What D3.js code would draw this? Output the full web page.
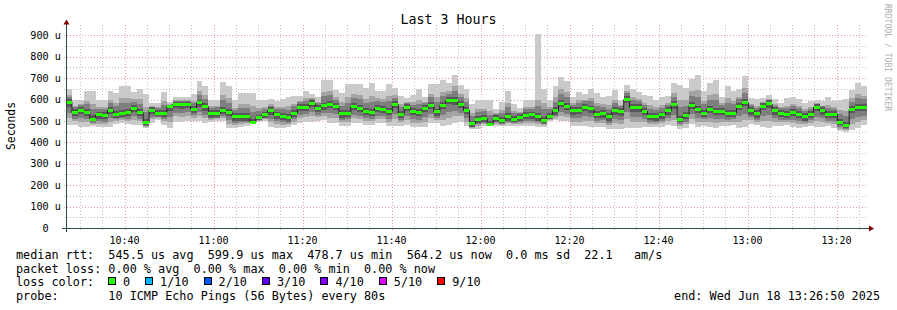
<!DOCTYPE html>
<html>
<head>
<meta charset="utf-8">
<script src="https://cdn.jsdelivr.net/npm/d3@7"></script>
<style>
body { margin: 0; background: #fff; }
text { font-family: "DejaVu Sans Mono", monospace; fill: #000; }
</style>
</head>
<body>
<script>
// smokeping "Last 3 Hours": 10 pings every 80s, values in microseconds

var stepSec = 80;
var startTime = new Date(Date.UTC(2025, 5, 18, 10, 26, 50));
var endTime = new Date(Date.UTC(2025, 5, 18, 13, 26, 50));

var median = [
  588, 539, 550, 540, 509, 528, 525, 550, 531, 537,
  539, 558, 540, 492, 550, 537, 537, 566, 578, 578,
  578, 555, 584, 566, 533, 537, 550, 539, 520, 520,
  520, 494, 514, 528, 548, 528, 523, 517, 537, 563,
  564, 581, 559, 570, 578, 569, 534, 537, 567, 558,
  544, 539, 559, 553, 544, 577, 530, 563, 545, 539,
  558, 572, 542, 572, 595, 594, 577, 550, 486, 505,
  511, 484, 512, 502, 520, 508, 517, 525, 528, 520,
  502, 522, 547, 581, 567, 548, 550, 564, 556, 530,
  533, 520, 547, 543, 599.9, 561, 562, 545, 522, 519,
  528, 547, 575, 509, 526, 572, 555, 537, 555, 545,
  544, 537, 537, 569, 586, 548, 533, 567, 580, 547,
  537, 531, 540, 530, 520, 531, 564, 548, 530, 531,
  492, 478.7, 555, 563, 564.2
];

// sorted pings per step, p1 = fastest ... p10 = slowest
var p10 = [
  648, 600, 600, 640, 640, 598, 598, 641, 629, 662,
  662, 636, 651, 628, 584, 584, 636, 589, 612, 612,
  612, 628, 687, 662, 598, 598, 682, 662, 597, 631,
  631, 631, 597, 597, 602, 591, 602, 611, 617, 617,
  642, 627, 614, 692, 692, 645, 630, 673, 673, 673,
  653, 677, 642, 642, 673, 653, 617, 606, 622, 649,
  611, 673, 673, 689, 677, 715, 669, 651, 577, 597,
  597, 597, 555, 590, 639, 581, 562, 600, 597, 908,
  651, 600, 662, 703, 687, 613, 636, 628, 650, 631,
  613, 616, 643, 600, 670, 651, 636, 620, 616, 600,
  613, 617, 677, 669, 653, 695, 715, 642, 677, 692,
  614, 661, 642, 649, 708, 606, 602, 606, 622, 602,
  586, 606, 611, 602, 583, 591, 599, 591, 611, 591,
  599, 602, 645, 677, 661
];
var p9 = [
  621, 572, 578, 595, 581, 566, 565, 600, 585, 606,
  607, 601, 601, 567, 569, 563, 591, 579, 597, 596,
  597, 595, 641, 619, 569, 571, 623, 607, 562, 581,
  581, 569, 560, 566, 578, 563, 566, 569, 581, 593,
  607, 606, 589, 637, 641, 611, 587, 612, 625, 621,
  604, 615, 605, 602, 615, 619, 578, 587, 587, 600,
  587, 628, 614, 636, 640, 661, 628, 606, 536, 556,
  558, 546, 536, 550, 585, 548, 542, 566, 566, 600,
  584, 565, 610, 648, 633, 584, 597, 599, 608, 586,
  577, 573, 600, 574, 638, 611, 603, 586, 574, 564,
  575, 586, 631, 597, 596, 640, 643, 595, 622, 626,
  583, 605, 595, 613, 653, 580, 571, 588, 603, 577,
  564, 572, 579, 570, 555, 564, 583, 572, 575, 564,
  551, 547, 605, 626, 617
];
var p8 = [
  614, 565, 573, 578, 556, 557, 555, 585, 568, 583,
  584, 589, 581, 541, 566, 559, 575, 576, 594, 593,
  594, 585, 623, 603, 561, 563, 598, 584, 551, 561,
  561, 543, 547, 557, 572, 555, 555, 553, 569, 587,
  595, 603, 584, 615, 620, 600, 571, 586, 607, 601,
  585, 588, 592, 588, 591, 608, 564, 584, 576, 580,
  582, 610, 589, 615, 628, 638, 613, 588, 521, 541,
  545, 526, 533, 536, 564, 538, 538, 556, 557, 568,
  555, 554, 590, 626, 611, 576, 584, 591, 592, 568,
  565, 557, 584, 568, 629, 596, 592, 575, 558, 551,
  561, 576, 614, 565, 572, 617, 611, 577, 600, 597,
  573, 582, 577, 601, 631, 573, 562, 585, 600, 572,
  560, 562, 569, 560, 547, 557, 580, 569, 562, 557,
  532, 524, 590, 605, 601
];
var p7 = [
  604, 554, 565, 557, 526, 544, 541, 566, 547, 553,
  555, 574, 556, 508, 563, 551, 553, 574, 588, 589,
  588, 571, 600, 582, 549, 553, 566, 555, 536, 536,
  536, 510, 530, 544, 564, 544, 539, 533, 553, 579,
  580, 597, 575, 586, 594, 585, 550, 553, 583, 574,
  560, 555, 575, 569, 560, 593, 546, 579, 561, 555,
  574, 588, 558, 588, 611, 610, 593, 566, 502, 521,
  527, 500, 528, 518, 536, 524, 533, 541, 544, 536,
  518, 538, 563, 597, 583, 564, 566, 580, 572, 546,
  549, 536, 563, 559, 616, 577, 578, 561, 538, 535,
  544, 563, 591, 525, 542, 588, 571, 553, 571, 561,
  560, 553, 553, 585, 602, 564, 549, 583, 596, 563,
  553, 547, 556, 546, 536, 547, 578, 564, 546, 547,
  508, 495, 571, 579, 580
];
var p6 = [
  592, 543, 554, 544, 513, 532, 529, 554, 535, 541,
  543, 562, 544, 496, 554, 541, 541, 569, 582, 582,
  582, 559, 588, 570, 537, 541, 554, 543, 524, 524,
  524, 498, 518, 532, 552, 532, 527, 521, 541, 567,
  568, 585, 563, 574, 582, 573, 538, 541, 571, 562,
  548, 543, 563, 557, 548, 581, 534, 567, 549, 543,
  562, 576, 546, 576, 599, 598, 581, 554, 490, 509,
  515, 488, 516, 506, 524, 512, 521, 529, 532, 524,
  506, 526, 551, 585, 571, 552, 554, 568, 560, 534,
  537, 524, 551, 547, 604, 565, 566, 549, 526, 523,
  532, 551, 579, 513, 530, 576, 559, 541, 559, 549,
  548, 541, 541, 573, 590, 552, 537, 571, 584, 551,
  541, 535, 544, 534, 524, 535, 568, 552, 534, 535,
  496, 483, 559, 567, 568
];
var p5 = [
  584, 535, 546, 536, 505, 524, 521, 546, 527, 533,
  535, 554, 536, 488, 546, 533, 533, 562, 574, 574,
  574, 551, 580, 562, 529, 533, 546, 535, 516, 516,
  516, 491, 510, 524, 544, 524, 519, 513, 533, 559,
  560, 577, 555, 566, 574, 565, 530, 533, 563, 554,
  540, 535, 555, 549, 540, 573, 526, 559, 541, 535,
  554, 568, 538, 568, 591, 590, 573, 546, 482, 501,
  507, 481, 508, 498, 516, 504, 513, 521, 524, 516,
  498, 518, 543, 577, 563, 544, 546, 560, 552, 526,
  529, 516, 543, 539, 596, 557, 558, 541, 518, 515,
  524, 543, 571, 505, 522, 568, 551, 533, 551, 541,
  540, 533, 533, 565, 582, 544, 529, 563, 576, 543,
  533, 527, 536, 526, 516, 527, 560, 544, 526, 527,
  488, 475, 551, 559, 560
];
var p4 = [
  566, 521, 531, 521, 499, 510, 507, 532, 513, 519,
  521, 540, 522, 480, 532, 525, 519, 548, 560, 558,
  559, 537, 566, 548, 515, 519, 532, 521, 502, 502,
  502, 490, 506, 515, 530, 510, 505, 499, 519, 545,
  546, 563, 541, 552, 560, 551, 516, 519, 549, 540,
  526, 521, 541, 535, 526, 559, 512, 545, 527, 521,
  540, 554, 524, 554, 577, 576, 559, 532, 474, 489,
  497, 480, 496, 490, 502, 495, 501, 507, 510, 502,
  490, 510, 529, 563, 549, 530, 532, 546, 538, 512,
  515, 502, 529, 525, 582, 543, 544, 527, 504, 501,
  510, 529, 557, 493, 508, 554, 537, 519, 537, 527,
  526, 519, 519, 551, 568, 530, 515, 549, 562, 529,
  519, 513, 522, 512, 502, 513, 546, 530, 512, 513,
  479, 468, 537, 545, 546
];
var p3 = [
  539, 509, 513, 507, 492, 499, 497, 514, 507, 512,
  511, 522, 511, 476, 520, 519, 509, 520, 539, 537,
  541, 527, 544, 530, 512, 515, 523, 504, 492, 495,
  497, 489, 504, 512, 511, 498, 494, 492, 508, 529,
  531, 541, 529, 538, 536, 531, 505, 507, 530, 524,
  513, 510, 525, 521, 510, 531, 503, 524, 509, 505,
  517, 533, 515, 527, 543, 546, 539, 514, 470, 484,
  492, 479, 493, 487, 496, 490, 495, 499, 501, 495,
  486, 508, 523, 543, 534, 513, 514, 523, 517, 501,
  503, 491, 508, 505, 540, 517, 518, 510, 496, 494,
  500, 514, 529, 484, 496, 531, 515, 507, 515, 507,
  511, 506, 508, 522, 534, 518, 506, 522, 528, 512,
  506, 505, 506, 499, 494, 503, 520, 512, 502, 499,
  471, 462, 510, 519, 524
];
var p2 = [
  512, 498, 496, 493, 487, 488, 487, 497, 499, 503,
  501, 505, 499, 472, 507, 513, 499, 496, 521, 519,
  523, 516, 525, 513, 506, 510, 513, 487, 482, 487,
  491, 487, 502, 508, 493, 486, 483, 484, 497, 513,
  517, 522, 518, 525, 516, 513, 494, 495, 512, 510,
  501, 499, 510, 508, 496, 507, 493, 505, 492, 491,
  496, 514, 505, 504, 515, 521, 521, 497, 466, 475,
  487, 478, 487, 483, 489, 486, 488, 491, 492, 488,
  482, 506, 516, 524, 520, 497, 497, 502, 498, 490,
  491, 480, 490, 488, 508, 494, 495, 495, 488, 487,
  490, 500, 505, 476, 484, 511, 496, 496, 496, 490,
  497, 494, 497, 497, 505, 506, 496, 499, 500, 497,
  494, 495, 491, 487, 485, 492, 498, 495, 491, 485,
  464, 457, 487, 496, 505
];
var p1 = [
  480, 480, 473, 473, 478, 471, 471, 474, 485, 489,
  485, 482, 482, 466, 489, 503, 482, 466, 496, 496,
  500, 500, 500, 490, 495, 498, 498, 466, 466, 473,
  478, 485, 500, 500, 470, 468, 466, 470, 480, 492,
  497, 497, 500, 505, 489, 489, 477, 477, 489, 489,
  482, 482, 489, 489, 475, 477, 477, 480, 470, 470,
  470, 489, 489, 475, 480, 489, 497, 475, 460, 462,
  476, 476, 476, 476, 476, 476, 476, 476, 476, 473,
  473, 500, 503, 500, 500, 476, 476, 476, 473, 473,
  473, 463, 463, 463, 466, 466, 466, 473, 473, 473,
  473, 480, 475, 461, 466, 485, 470, 478, 470, 466,
  475, 475, 480, 466, 470, 485, 480, 470, 466, 475,
  475, 480, 470, 468, 470, 475, 470, 472, 475, 466,
  452, 448, 458, 468, 480
];

var yMajor = [100, 200, 300, 400, 500, 600, 700, 800, 900];
var yMinor = [50, 150, 250, 350, 450, 550, 650, 750, 850];
var yLabelValues = [0, 100, 200, 300, 400, 500, 600, 700, 800, 900];
var yLabels = ["0  ", "100 u", "200 u", "300 u", "400 u", "500 u", "600 u", "700 u", "800 u", "900 u"];

var lossLabels = ["0", "1/10", "2/10", "3/10", "4/10", "5/10", "9/10"];
var lossColors = ["#26ff00", "#00b8ff", "#0059ff", "#5e00ff", "#7e00ff", "#dd00ff", "#ff0000"];
var smokeColors = ["#cacaca", "#a4a4a4", "#7e7e7e", "#585858", "#323232"];

var legendLines = [
  "median rtt:  545.5 us avg  599.9 us max  478.7 us min  564.2 us now  0.0 ms sd  22.1   am/s",
  "packet loss: 0.00 % avg  0.00 % max  0.00 % min  0.00 % now"
];
var probeText = "probe:       10 ICMP Echo Pings (56 Bytes) every 80s";
var endText = "end: Wed Jun 18 13:26:50 2025";

var width = 897;
var height = 310;
var plotLeft = 66, plotRight = 867, plotTop = 25, plotBottom = 228;

var svg = d3.select("body").append("svg")
    .attr("width", width)
    .attr("height", height);

svg.append("rect").attr("width", width).attr("height", height).attr("fill", "#ffffff");

var x = d3.scaleTime().domain([startTime, endTime]).range([plotLeft, plotRight]);
var y = d3.scaleLinear().domain([0, 948]).range([plotBottom, plotTop]);

function tAt(i) {
    return new Date(startTime.getTime() + i * stepSec * 1000);
}

// grid
var grid = svg.append("g").attr("shape-rendering", "crispEdges");
var minorTimes = d3.utcMinute.every(5).range(startTime, endTime)
    .filter(function(d) { return d.getUTCMinutes() % 20 != 0; });
var majorTimes = d3.utcMinute.every(20).range(startTime, endTime);

function hline(sel, color) {
    sel.attr("x1", plotLeft - 2).attr("x2", plotRight)
        .attr("y1", function(d) { return Math.round(y(d)) + 0.5; })
        .attr("y2", function(d) { return Math.round(y(d)) + 0.5; })
        .attr("stroke", color).attr("stroke-dasharray", "1,2");
}
function vline(sel, color) {
    sel.attr("x1", function(d) { return Math.round(x(d)) + 0.5; })
        .attr("x2", function(d) { return Math.round(x(d)) + 0.5; })
        .attr("y1", plotBottom + 2).attr("y2", plotTop)
        .attr("stroke", color).attr("stroke-dasharray", "1,2");
}
grid.append("g").selectAll("line").data(yMinor).join("line").call(hline, "#c4c4c4");
grid.append("g").selectAll("line").data(minorTimes).join("line").call(vline, "#c4c4c4");
grid.append("g").selectAll("line").data(yMajor).join("line").call(hline, "#eb9a9a");
grid.append("g").selectAll("line").data(majorTimes).join("line").call(vline, "#eb9a9a");

// smoke bands, outer pair first
var pings = [p1, p2, p3, p4, p5, p6, p7, p8, p9, p10];
var idx = d3.range(median.length + 1);
function bandArea(lo, hi) {
    return d3.area()
        .curve(d3.curveStepAfter)
        .x(function(i) { return x(tAt(i)); })
        .y0(function(i) { return y(lo[Math.min(i, lo.length - 1)]); })
        .y1(function(i) { return y(hi[Math.min(i, hi.length - 1)]); });
}
for (var b = 0; b < 5; b++) {
    svg.append("path")
        .datum(idx)
        .attr("d", bandArea(pings[b], pings[9 - b]))
        .attr("fill", smokeColors[b])
        .attr("shape-rendering", "crispEdges");
}

// median line
var medLine = d3.line()
    .curve(d3.curveStepAfter)
    .x(function(i) { return x(tAt(i)); })
    .y(function(i) { return y(median[Math.min(i, median.length - 1)]); });
svg.append("path")
    .datum(idx)
    .attr("d", medLine)
    .attr("fill", "none")
    .attr("stroke", "#202020")
    .attr("stroke-width", 1);

// loss coloured median band (no loss in this window)
var sw = 7;
svg.append("g").attr("shape-rendering", "crispEdges")
    .selectAll("rect").data(median).join("rect")
    .attr("x", function(d, i) { return x(tAt(i)); })
    .attr("width", function(d, i) { return x(tAt(i + 1)) - x(tAt(i)); })
    .attr("y", function(d) { return y(d + sw); })
    .attr("height", function(d) { return y(d - sw) - y(d + sw); })
    .attr("fill", lossColors[0]);

// axes
var axisColor = "#2c4d43";
svg.append("line")
    .attr("x1", plotLeft - 4).attr("x2", plotRight + 2)
    .attr("y1", plotBottom + 0.5).attr("y2", plotBottom + 0.5)
    .attr("stroke", axisColor).attr("shape-rendering", "crispEdges");
svg.append("line")
    .attr("x1", plotLeft + 0.5).attr("x2", plotLeft + 0.5)
    .attr("y1", plotBottom + 4).attr("y2", plotTop - 1)
    .attr("stroke", axisColor).attr("shape-rendering", "crispEdges");
svg.append("path")
    .attr("d", "M" + (plotLeft - 2.5) + "," + (plotTop - 0.5) + "L" + (plotLeft + 3.5) + "," + (plotTop - 0.5) + "L" + (plotLeft + 0.5) + "," + (plotTop - 5.5) + "Z")
    .attr("fill", "#7f0000");
svg.append("path")
    .attr("d", "M" + (plotRight + 2) + "," + (plotBottom - 2.5) + "L" + (plotRight + 2) + "," + (plotBottom + 3.5) + "L" + (plotRight + 7) + "," + (plotBottom + 0.5) + "Z")
    .attr("fill", "#7f0000");

// y labels
svg.append("g").selectAll("text").data(yLabelValues).join("text")
    .attr("xml:space", "preserve")
    .attr("x", plotLeft - 5)
    .attr("y", function(d) { return y(d) + 3.6; })
    .attr("text-anchor", "end")
    .attr("font-size", "10.2px")
    .text(function(d, i) { return yLabels[i]; });

// x labels
var fmt = d3.utcFormat("%H:%M");
svg.append("g").selectAll("text").data(majorTimes).join("text")
    .attr("x", function(d) { return x(d); })
    .attr("y", 244)
    .attr("text-anchor", "middle")
    .attr("font-size", "10px")
    .text(function(d) { return fmt(d); });

// title, unit label, watermark
svg.append("text")
    .attr("x", width / 2).attr("y", 24)
    .attr("text-anchor", "middle")
    .attr("font-size", "13.3px")
    .text("Last 3 Hours");

svg.append("text")
    .attr("transform", "translate(14.5,126) rotate(-90)")
    .attr("text-anchor", "middle")
    .attr("font-size", "11.4px")
    .text("Seconds");

svg.append("text")
    .attr("transform", "translate(885,4) rotate(90)")
    .attr("font-size", "8.1px")
    .style("fill", "#b0b0b0")
    .text("RRDTOOL / TOBI OETIKER");

// legend
var legendFont = "11.8px";
var lineY = [259, 272.5, 286, 299.5];
svg.append("g").selectAll("text").data(legendLines).join("text")
    .attr("xml:space", "preserve")
    .attr("x", 16)
    .attr("y", function(d, i) { return lineY[i]; })
    .attr("font-size", legendFont)
    .text(function(d) { return d; });

svg.append("text")
    .attr("x", 16).attr("y", lineY[2])
    .attr("font-size", legendFont)
    .text("loss color:");

var lx = 108;
var lg = svg.append("g");
lossLabels.forEach(function(lab, i) {
    lg.append("rect")
        .attr("x", lx + 0.5).attr("y", lineY[2] - 8.5)
        .attr("width", 7).attr("height", 7)
        .attr("fill", lossColors[i])
        .attr("stroke", "#000").attr("stroke-width", 1)
        .attr("shape-rendering", "crispEdges");
    var t = lg.append("text")
        .attr("x", lx + 15).attr("y", lineY[2])
        .attr("font-size", legendFont)
        .text(lab);
    lx = lx + 15 + t.node().getComputedTextLength() + 15;
});

svg.append("text")
    .attr("xml:space", "preserve")
    .attr("x", 16).attr("y", lineY[3])
    .attr("font-size", legendFont)
    .text(probeText);
svg.append("text")
    .attr("x", 880).attr("y", lineY[3])
    .attr("text-anchor", "end")
    .attr("font-size", legendFont)
    .text(endText);
</script>
</body>
</html>
